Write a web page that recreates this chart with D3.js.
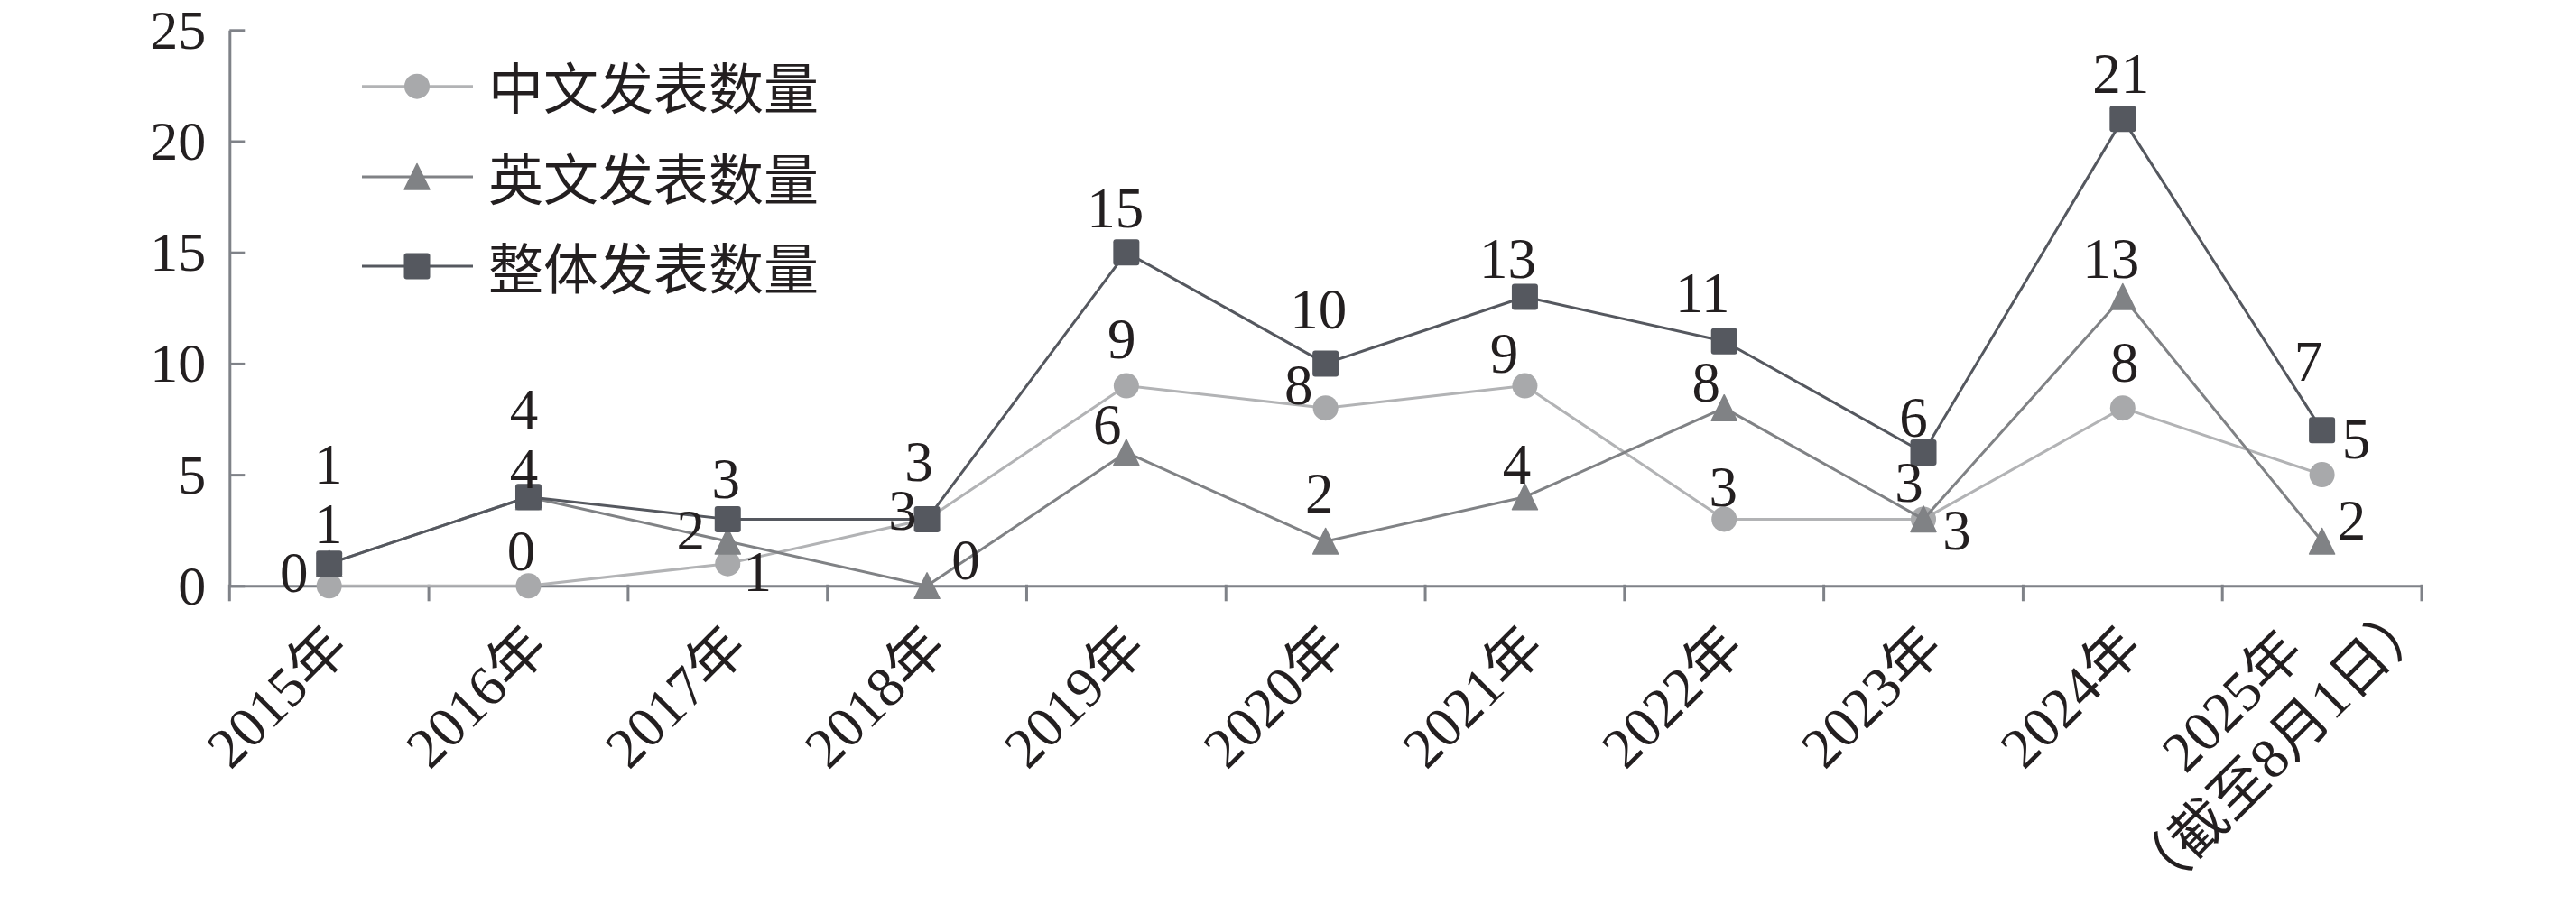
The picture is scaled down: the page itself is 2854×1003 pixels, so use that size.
<!DOCTYPE html>
<html>
<head>
<meta charset="utf-8">
<script src="https://cdn.jsdelivr.net/npm/d3@7"></script>
<style>
  html, body { margin: 0; padding: 0; background: #ffffff; }
  svg { display: block; }
</style>
</head>
<body>
<svg id="chart" width="2854" height="1003"></svg>
<script>
// ---------------- data ----------------
const years = ["2015年","2016年","2017年","2018年","2019年","2020年","2021年","2022年","2023年","2024年","2025年\n（截至8月1日）"];
const seriesNames = ["中文发表数量", "英文发表数量", "整体发表数量"];
const cnValues    = [0, 0, 1, 3, 9, 8, 9, 3, 3, 8, 5];
const enValues    = [1, 4, 2, 0, 6, 2, 4, 8, 3, 13, 2];
const totalValues = [1, 4, 3, 3, 15, 10, 13, 11, 6, 21, 7];
const yTicks = [0, 5, 10, 15, 20, 25];

// label nudges (pixels, relative to each point) as placed in the source chart
const cnLabelShift    = [[-39,-14],[-8,-38],[33,9],[-27,-9],[-5,-52],[-30,-25],[-23,-36],[-1,-35],[-16,-40],[2,-50],[38,-39]];
const enLabelShift    = [[-1,-44],[-5,-31],[-41,-12],[43,-28],[-21,-30],[-7,-53],[-9,-36],[-20,-28],[37,13],[-13,-42],[33,-23]];
const totalLabelShift = [[-1,-110],[-5,-97],[-2,-44],[-9,-63],[-12,-49],[-8,-60],[-19,-42],[-24,-53],[-11,-38],[-2,-50],[-15,-76]];

// ---------------- setup ----------------
const svg = d3.select("#chart");
const W = 2854, H = 1003;
const mLeft = 254.3, mRight = 2683, mTop = 33.3, mBottom = 649.3;

const axisColor = "#7f8288";
const textColor = "#231f20";
const numFont = "'Liberation Serif', 'Times New Roman', 'Noto Sans CJK SC', serif";
const cjkFont = "'Noto Sans CJK SC', 'Noto Sans CJK JP', sans-serif";

const series = [
  { name: seriesNames[0], values: cnValues,    shift: cnLabelShift,    color: "#b2b3b5", fill: "#a8a9ab", shape: "circle" },
  { name: seriesNames[1], values: enValues,    shift: enLabelShift,    color: "#808285", fill: "#808285", shape: "triangle" },
  { name: seriesNames[2], values: totalValues, shift: totalLabelShift, color: "#55585f", fill: "#55585f", shape: "square" }
];

const x = d3.scaleBand().domain(years).range([mLeft, mRight]).padding(0);
const y = d3.scaleLinear().domain([0, 25]).range([mBottom, mTop]);
const cx = (i) => x(years[i]) + x.bandwidth() / 2;

svg.append("rect").attr("width", W).attr("height", H).attr("fill", "#ffffff");

// ---------------- y axis ----------------
const yAxis = svg.append("g")
  .attr("transform", `translate(${mLeft},0)`)
  .call(d3.axisLeft(y).tickValues(yTicks).tickSizeInner(-17).tickSizeOuter(0).tickPadding(26).tickFormat(d3.format("d")));
yAxis.select(".domain").attr("stroke", axisColor).attr("stroke-width", 3);
yAxis.selectAll(".tick line").attr("stroke", axisColor).attr("stroke-width", 3);
yAxis.selectAll(".tick text")
  .attr("fill", textColor)
  .attr("font-family", numFont)
  .attr("font-size", 62)
  .attr("dy", null)
  .attr("dominant-baseline", "central")
  .attr("y", -1);

// ---------------- x axis ----------------
const xAxis = svg.append("g")
  .attr("transform", `translate(0,${mBottom})`)
  .call(d3.axisBottom(x).tickSize(0).tickFormat(""));
xAxis.select(".domain").attr("stroke", axisColor).attr("stroke-width", 3);
xAxis.selectAll(".tick").remove();

const boundaries = years.map(d => x(d)).concat([x.range()[1]]);
svg.append("g").selectAll("line").data(boundaries).join("line")
  .attr("x1", d => d).attr("x2", d => d)
  .attr("y1", mBottom - 1.5).attr("y2", mBottom + 17)
  .attr("stroke", axisColor).attr("stroke-width", 3);

// category labels (rotated -45°)
const xLab = svg.append("g");
years.forEach((lab, i) => {
  const lines = lab.split("\n");
  const tx = cx(i);
  if (lines.length === 1) {
    const ax = tx + 9.6, ay = mBottom + 56.4;
    xLab.append("text")
      .attr("transform", `translate(${ax},${ay}) rotate(-45)`)
      .attr("text-anchor", "end")
      .attr("dominant-baseline", "central")
      .attr("font-family", numFont)
      .attr("font-size", 63)
      .attr("fill", textColor)
      .text(lines[0]);
  } else {
    const bcx = tx - 73, bcy = mBottom + 154;
    const gap = 74;
    lines.forEach((ln, k) => {
      const off = (k - (lines.length - 1) / 2) * gap;
      const lx = bcx + off * Math.SQRT1_2, ly = bcy + off * Math.SQRT1_2;
      xLab.append("text")
        .attr("transform", `translate(${lx},${ly}) rotate(-45)`)
        .attr("text-anchor", "middle")
        .attr("dominant-baseline", "central")
        .attr("font-family", numFont)
        .attr("font-size", 63)
        .attr("fill", textColor)
        .text(ln);
    });
  }
});

// ---------------- marker drawing ----------------
function drawMarker(g, shape, px, py, fill) {
  if (shape === "circle") {
    g.append("circle").attr("cx", px).attr("cy", py).attr("r", 14).attr("fill", fill);
  } else if (shape === "triangle") {
    const p = d3.path();
    p.moveTo(px, py - 14.5); p.lineTo(px + 14, py + 14); p.lineTo(px - 14, py + 14); p.closePath();
    g.append("path").attr("d", p.toString()).attr("fill", fill)
      .attr("stroke", fill).attr("stroke-width", 1.5).attr("stroke-linejoin", "round");
  } else {
    g.append("rect").attr("x", px - 14.5).attr("y", py - 14.5).attr("width", 29).attr("height", 29)
      .attr("rx", 3).attr("fill", fill);
  }
}

// ---------------- series ----------------
const line = d3.line().x((d, i) => cx(i)).y(d => y(d));
const plot = svg.append("g");
series.forEach(s => {
  const g = plot.append("g");
  g.append("path").datum(s.values)
    .attr("d", line)
    .attr("fill", "none")
    .attr("stroke", s.color)
    .attr("stroke-width", 3)
    .attr("stroke-linejoin", "round");
  s.values.forEach((v, i) => drawMarker(g, s.shape, cx(i), y(v), s.fill));
});

// data labels
const labels = svg.append("g");
series.forEach(s => {
  s.values.forEach((v, i) => {
    labels.append("text")
      .attr("x", cx(i) + s.shift[i][0])
      .attr("y", y(v) + s.shift[i][1])
      .attr("text-anchor", "middle")
      .attr("dominant-baseline", "central")
      .attr("font-family", numFont)
      .attr("font-size", 63)
      .attr("fill", textColor)
      .text(v);
  });
});

// ---------------- legend ----------------
const legRows = [95.7, 196, 295];
const legend = svg.append("g");
series.forEach((s, k) => {
  const ly = legRows[k];
  legend.append("line").attr("x1", 401).attr("x2", 524).attr("y1", ly).attr("y2", ly)
    .attr("stroke", s.color).attr("stroke-width", 3);
  drawMarker(legend, s.shape, 462, ly, s.fill);
  legend.append("text")
    .attr("x", 541).attr("y", ly - 1)
    .attr("dominant-baseline", "central")
    .attr("font-family", cjkFont)
    .attr("font-size", 61)
    .attr("fill", textColor)
    .text(s.name);
});
</script>
</body>
</html>
